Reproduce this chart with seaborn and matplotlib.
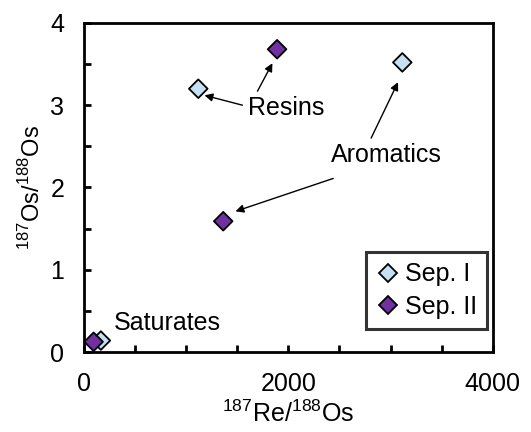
import matplotlib
matplotlib.use("Agg")
import matplotlib.pyplot as plt
import seaborn as sns
import pandas as pd
from matplotlib.ticker import MultipleLocator

sns.set_style("white")
plt.rcParams['font.family'] = ['Liberation Sans', 'DejaVu Sans']
plt.rcParams['mathtext.fontset'] = 'custom'
plt.rcParams['mathtext.rm'] = 'Liberation Sans'
for key in ["text.color", "axes.labelcolor", "xtick.color", "ytick.color"]:
    plt.rcParams[key] = "black"

# 187Re/188Os and 187Os/188Os for each fraction
fractions = ["Saturates", "Resins", "Aromatics"]
sep1_re = [166, 1119, 3115]
sep1_os = [0.14, 3.20, 3.52]
sep2_re = [95, 1890, 1363]
sep2_os = [0.125, 3.68, 1.59]
series = ["Sep. I", "Sep. II"]
colors = ["#C5DFF3", "#7030A0"]

df = pd.DataFrame({
    "re": sep1_re + sep2_re,
    "os": sep1_os + sep2_os,
    "sep": [series[0]] * len(sep1_re) + [series[1]] * len(sep2_re),
})

fig = plt.figure(figsize=(5.31, 4.32), dpi=100)
ax = fig.add_axes([0.158, 0.185, 0.770, 0.762])

sns.scatterplot(data=df, x="re", y="os", hue="sep", hue_order=series,
                palette=colors, marker="D", s=90, edgecolor="black",
                linewidth=1.3, ax=ax, zorder=3, legend=False, clip_on=False)

ax.set_xlim(0, 4000)
ax.set_ylim(0, 4)
ax.xaxis.set_major_locator(MultipleLocator(2000))
ax.xaxis.set_minor_locator(MultipleLocator(500))
ax.yaxis.set_major_locator(MultipleLocator(1))
ax.yaxis.set_minor_locator(MultipleLocator(0.5))
ax.tick_params(which="both", direction="in", width=2, length=5,
               labelsize=18, bottom=True, left=True)
ax.tick_params(axis="x", which="both", pad=14)
ax.tick_params(axis="y", which="both", pad=14)
for s in ax.spines.values():
    s.set_linewidth(2)
    s.set_color("black")

ax.set_xlabel(r"$^{187}$Re/$^{188}$Os", fontsize=18, labelpad=4)
ax.set_ylabel(r"$^{187}$Os/$^{188}$Os", fontsize=17, labelpad=4)

arrow = dict(arrowstyle="-|>", color="black", lw=1, mutation_scale=12,
             shrinkA=0, shrinkB=0)
fs = 18
ax.text(1980, 2.96, "Resins", fontsize=fs, ha="center", va="center")
ax.annotate("", xy=(1180, 3.12), xytext=(1551, 3.0), arrowprops=arrow)
ax.annotate("", xy=(1844, 3.51), xytext=(1698, 3.17), arrowprops=arrow)
ax.text(2956, 2.39, "Aromatics", fontsize=fs, ha="center", va="center")
ax.annotate("", xy=(3073, 3.28), xytext=(2810, 2.60), arrowprops=arrow)
ax.annotate("", xy=(1483, 1.71), xytext=(2439, 2.11), arrowprops=arrow)
ax.text(293, 0.35, "Saturates", fontsize=fs, ha="left", va="center")

handles = [plt.Line2D([], [], marker="D", linestyle="", markersize=9,
                      markerfacecolor=c, markeredgecolor="black",
                      markeredgewidth=1.3) for c in colors]
leg = ax.legend(handles, series, loc="lower right",
                bbox_to_anchor=(0.985, 0.07),
                fontsize=fs, frameon=True, fancybox=False, handletextpad=0.15,
                borderpad=0.4, labelspacing=0.35, handlelength=1.0,
                borderaxespad=0)
leg.get_frame().set_edgecolor("black")
leg.get_frame().set_linewidth(2.2)

fig.savefig("out.png", dpi=100)
